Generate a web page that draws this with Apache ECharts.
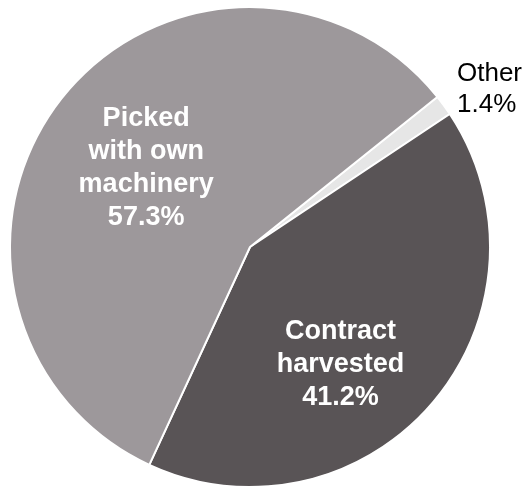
<!DOCTYPE html>
<html>
<head>
<meta charset="utf-8">
<script src="https://cdn.jsdelivr.net/npm/echarts@6/dist/echarts.min.js"></script>
<style>
  html, body { margin: 0; padding: 0; background: #ffffff; }
  #chart { width: 525px; height: 489px; }
</style>
</head>
<body>
<div id="chart"></div>
<script>
// Harvest method shares (percent)
const categories = ['Other', 'Contract\nharvested', 'Picked\nwith own\nmachinery'];
const shares = [1.4, 41.2, 57.3];
const sliceColors = ['#e6e6e6', '#595456', '#9d989b'];

const chart = echarts.init(document.getElementById('chart'), null, { renderer: 'canvas' });

const data = categories.map((name, i) => {
  const inside = i > 0;
  return {
    name: name,
    value: shares[i],
    itemStyle: { color: sliceColors[i] },
    label: inside ? {
      position: 'inside',
      color: '#ffffff',
      fontWeight: 'bold',
      fontSize: 27,
      lineHeight: 33
    } : {
      position: 'outside',
      color: '#000000',
      fontWeight: 'normal',
      fontSize: 26,
      lineHeight: 31,
      align: 'left'
    },
    labelLine: { show: false }
  };
});

chart.setOption({
  animation: false,
  series: [{
    type: 'pie',
    center: [250, 247],
    radius: 240,
    startAngle: 38.7,
    clockwise: true,
    avoidLabelOverlap: false,
    itemStyle: { borderColor: '#ffffff', borderWidth: 2 },
    label: {
      show: true,
      fontFamily: '"Liberation Sans", Arial, sans-serif',
      formatter: p => p.name + '\n' + p.value.toFixed(1) + '%'
    },
    labelLayout: function (params) {
      if (params.dataIndex === 0) {
        return { x: 457, y: 89, align: 'left', verticalAlign: 'middle' };
      }
      if (params.dataIndex === 1) {
        return { dx: -3, dy: 38 };
      }
      return { dx: -7, dy: -3 };
    },
    data: data
  }]
});
</script>
</body>
</html>
